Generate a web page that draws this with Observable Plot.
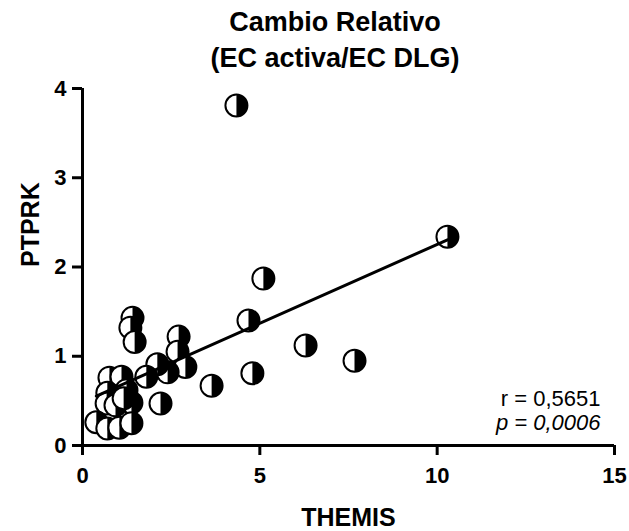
<!DOCTYPE html>
<html>
<head>
<meta charset="utf-8">
<script src="https://cdn.jsdelivr.net/npm/d3@7"></script>
<script src="https://cdn.jsdelivr.net/npm/@observablehq/plot@0.6"></script>
<style>
  html, body { margin: 0; padding: 0; background: white; }
  #wrap { position: relative; width: 629px; height: 531px; font-family: "Liberation Sans", Arial, sans-serif; }
  #title { position: absolute; left: 69px; width: 532px; top: 4px; text-align: center; font-weight: bold; font-size: 27px; line-height: 36px; color: black; }
  #chart { position: absolute; left: 0; top: 0; }
  svg { overflow: visible; }
</style>
</head>
<body>
<div id="wrap">
  <div id="chart"></div>
  <div id="title">Cambio Relativo<br>(EC activa/EC DLG)</div>
</div>
<script>
const themis = [4.34, 10.29, 5.10, 4.68, 6.29, 7.67, 4.79, 3.64, 2.71, 2.68, 2.90, 2.40, 2.11, 1.80, 2.20, 1.41, 1.35, 1.47, 0.76, 1.10, 1.24, 0.70, 0.68, 1.38, 0.93, 1.16, 0.39, 0.70, 1.04, 1.38];
const ptprk  = [3.81, 2.34, 1.87, 1.40, 1.12, 0.95, 0.81, 0.67, 1.22, 1.05, 0.88, 0.82, 0.91, 0.77, 0.47, 1.43, 1.32, 1.16, 0.76, 0.77, 0.62, 0.59, 0.47, 0.48, 0.45, 0.53, 0.26, 0.19, 0.20, 0.25];
const xTicks = [0, 5, 10, 15];
const yTicks = [0, 1, 2, 3, 4];
const xLabel = "THEMIS";
const yLabel = "PTPRK";
const statR = "r = 0,5651";
const statP = "p = 0,0006";

const data = themis.map((x, i) => ({x, y: ptprk[i]}));

const rightHalf = {
  draw(context, size) {
    const r = Math.sqrt(size / Math.PI);
    context.moveTo(0, -r);
    context.arc(0, 0, r, -Math.PI / 2, Math.PI / 2);
    context.closePath();
  }
};

const pointMarks = data.flatMap(d => [
  Plot.dot([d], {x: "x", y: "y", r: 11, fill: "white", stroke: "black", strokeWidth: 2}),
  Plot.dot([d], {x: "x", y: "y", r: 11, symbol: rightHalf, fill: "black"})
]);

const plot = Plot.plot({
  width: 629,
  height: 531,
  marginTop: 88,
  marginBottom: 86,
  marginLeft: 82,
  marginRight: 15,
  style: {fontFamily: "Liberation Sans, Arial, sans-serif", color: "black", background: "white"},
  x: {domain: [0, 15]},
  y: {domain: [0, 4]},
  marks: [
    Plot.axisX({ticks: xTicks, tickFormat: "d", tickSize: 10, tickPadding: 12, strokeWidth: 3, fontSize: 22, fontWeight: "bold", label: null}),
    Plot.axisY({ticks: yTicks, tickFormat: "d", tickSize: 10, tickPadding: 6, strokeWidth: 3, fontSize: 22, fontWeight: "bold", label: null}),
    Plot.ruleY([0], {strokeWidth: 3}),
    Plot.ruleX([0], {strokeWidth: 3}),
    ...pointMarks,
    Plot.linearRegressionY(data, {x: "x", y: "y", stroke: "black", strokeWidth: 3, ci: 0}),
    Plot.text([xLabel], {frameAnchor: "bottom", dy: 72, fontSize: 25, fontWeight: "bold", lineAnchor: "middle"}),
    Plot.text([yLabel], {frameAnchor: "left", dx: -52, rotate: -90, fontSize: 25, fontWeight: "bold"}),
    Plot.text([statR], {frameAnchor: "bottom-right", dx: -14, dy: -47, textAnchor: "end", lineAnchor: "middle", fontSize: 22}),
    Plot.text([statP], {frameAnchor: "bottom-right", dx: -14, dy: -23, textAnchor: "end", lineAnchor: "middle", fontSize: 22, fontStyle: "italic"})
  ]
});
document.getElementById("chart").appendChild(plot);
</script>
</body>
</html>
